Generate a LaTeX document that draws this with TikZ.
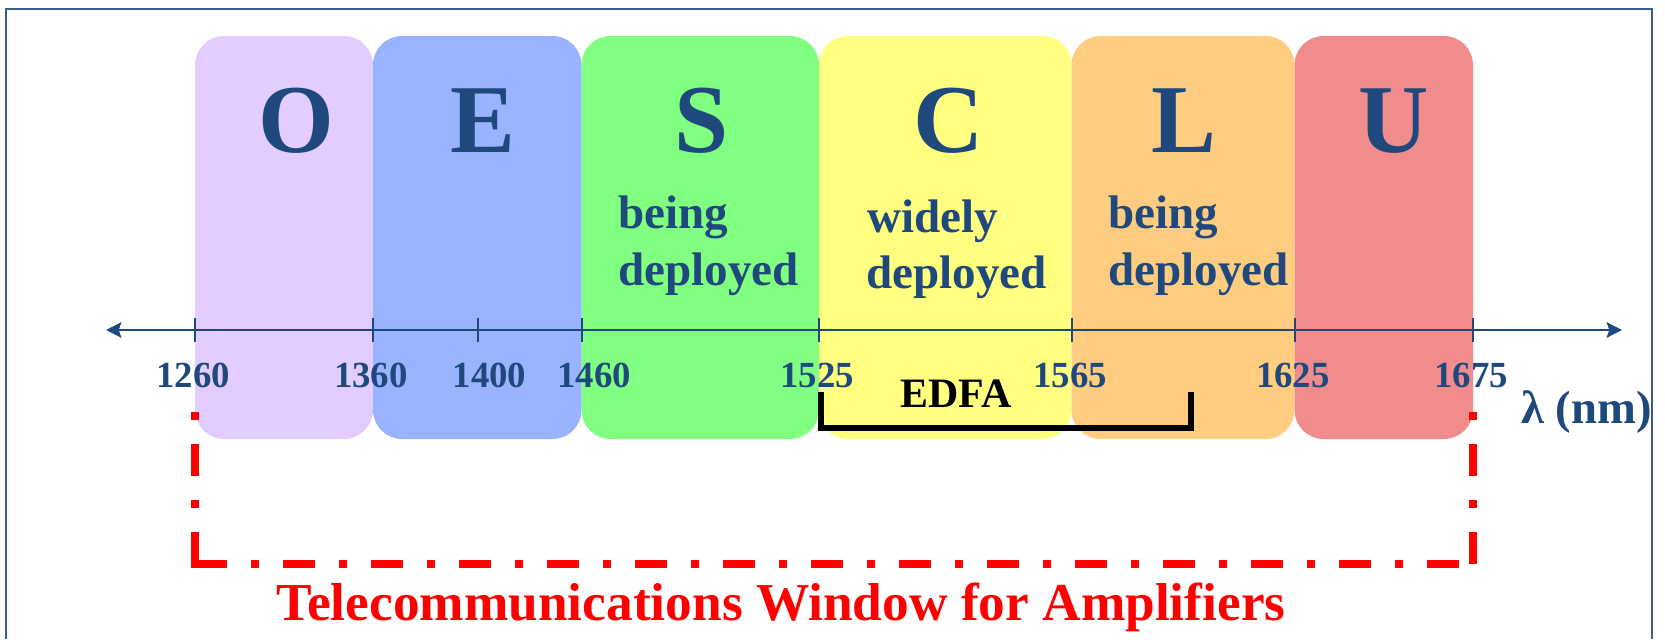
\documentclass[tikz,border=0pt]{standalone}
\usepackage{fontspec}
\setmainfont{Liberation Serif}
\usetikzlibrary{arrows.meta}
\definecolor{txtblue}{RGB}{31,73,125}
\definecolor{framec}{RGB}{56,93,138}
\definecolor{bandO}{RGB}{227,204,255}
\definecolor{bandE}{RGB}{153,179,255}
\definecolor{bandS}{RGB}{128,255,128}
\definecolor{bandC}{RGB}{255,255,128}
\definecolor{bandL}{RGB}{255,204,128}
\definecolor{bandU}{RGB}{240,140,140}
\begin{document}
\begin{tikzpicture}[x=0.75pt,y=-0.75pt,
  band/.style={rounded corners=21.75pt},
  bigletter/.style={anchor=base,inner sep=0pt,text=txtblue,font=\fontsize{73}{80}\selectfont\bfseries},
  note/.style={anchor=base west,inner sep=0pt,text=txtblue,font=\fontsize{35.3}{42}\selectfont\bfseries},
  ticklabel/.style={anchor=base,inner sep=0pt,text=txtblue,font=\fontsize{27.6}{32}\selectfont\bfseries},
  tickmark/.style={draw=txtblue,line width=1.5pt},
  axisline/.style={draw=txtblue,line width=2pt,{Stealth[length=11.5pt,width=11.5pt,inset=2pt]}-{Stealth[length=11.5pt,width=11.5pt,inset=2pt]}},
  window/.style={draw=red,line width=6pt,dash pattern=on 24pt off 18pt on 6pt off 18pt},
]
\useasboundingbox (0,0) rectangle (1665,639);
% frame
\draw[framec,line width=1.5pt] (6,639) -- (6,8.5) -- (1652,8.5) -- (1652,639);
% bands
\fill[band,bandO] (195,36) rectangle (373,439);
\fill[band,bandE] (373,36) rectangle (581.5,439);
\fill[band,bandS] (581.5,36) rectangle (819,439);
\fill[band,bandC] (819,36) rectangle (1071.5,439);
\fill[band,bandL] (1071.5,36) rectangle (1294.5,439);
\fill[band,bandU] (1294.5,36) rectangle (1473,439);
% axis
\coordinate (axL) at (106,330);
\coordinate (axR) at (1622,330);
\draw[axisline] (axL) -- (axR);
\foreach \x in {195,373,477.6,581.7,819,1071.6,1294.6,1473}
  \draw[tickmark] (\x,318) -- (\x,342);
% band letters
\node[bigletter] (O) at (296.6,152) {O};
\node[bigletter] (E) at (483.3,152) {E};
\node[bigletter] (S) at (702,152) {S};
\node[bigletter] (C) at (948.4,152) {C};
\node[bigletter] (L) at (1184,152) {L};
\node[bigletter] (U) at (1393.5,152) {U};
% notes
\node[note] (s1) at (618,228) {being};
\node[note] (s2) at (618,285) {deployed};
\node[note] (c1) at (867,232) {widely};
\node[note] (c2) at (866,288) {deployed};
\node[note] (l1) at (1108,228) {being};
\node[note] (l2) at (1108,285) {deployed};
% tick labels
\node[ticklabel] (t1260) at (193,387) {1260};
\node[ticklabel] (t1360) at (370.8,387) {1360};
\node[ticklabel] (t1400) at (489.5,387) {1400};
\node[ticklabel] (t1460) at (594,387) {1460};
\node[ticklabel] (t1525) at (817,387) {1525};
\node[ticklabel] (t1565) at (1070,387) {1565};
\node[ticklabel] (t1625) at (1292.8,387) {1625};
\node[ticklabel] (t1675) at (1471,387) {1675};
\node[anchor=base west,inner sep=0pt,text=txtblue,font=\fontsize{35}{42}\selectfont\bfseries] (lam) at (1521,423) {λ (nm)};
% EDFA bracket
\coordinate (b1) at (821,392);
\coordinate (b2) at (821,428);
\coordinate (b3) at (1191,428);
\coordinate (b4) at (1191,392);
\draw[black,line width=4.5pt] (b1) -- (b2) -- (b3) -- (b4);
\node[anchor=base,inner sep=0pt,font=\fontsize{31.4}{36}\selectfont\bfseries] (edfa) at (956,407) {EDFA};
% window
\coordinate (wTL) at (195,412);
\coordinate (wBL) at (195,564);
\coordinate (wBR) at (1473,564);
\coordinate (wTR) at (1473,412);
\draw[window] (wBL) -- (wTL);
\draw[window] (wBL) -- (wBR);
\draw[window] (wBR) -- (wTR);
\fill[red] (191,560) rectangle (199,568);
\node[anchor=base,inner sep=0pt,text=red,font=\fontsize{40}{46}\selectfont\bfseries] (title) at (781,620) {Telecommunications Window for Amplifiers};
\end{tikzpicture}
\end{document}
